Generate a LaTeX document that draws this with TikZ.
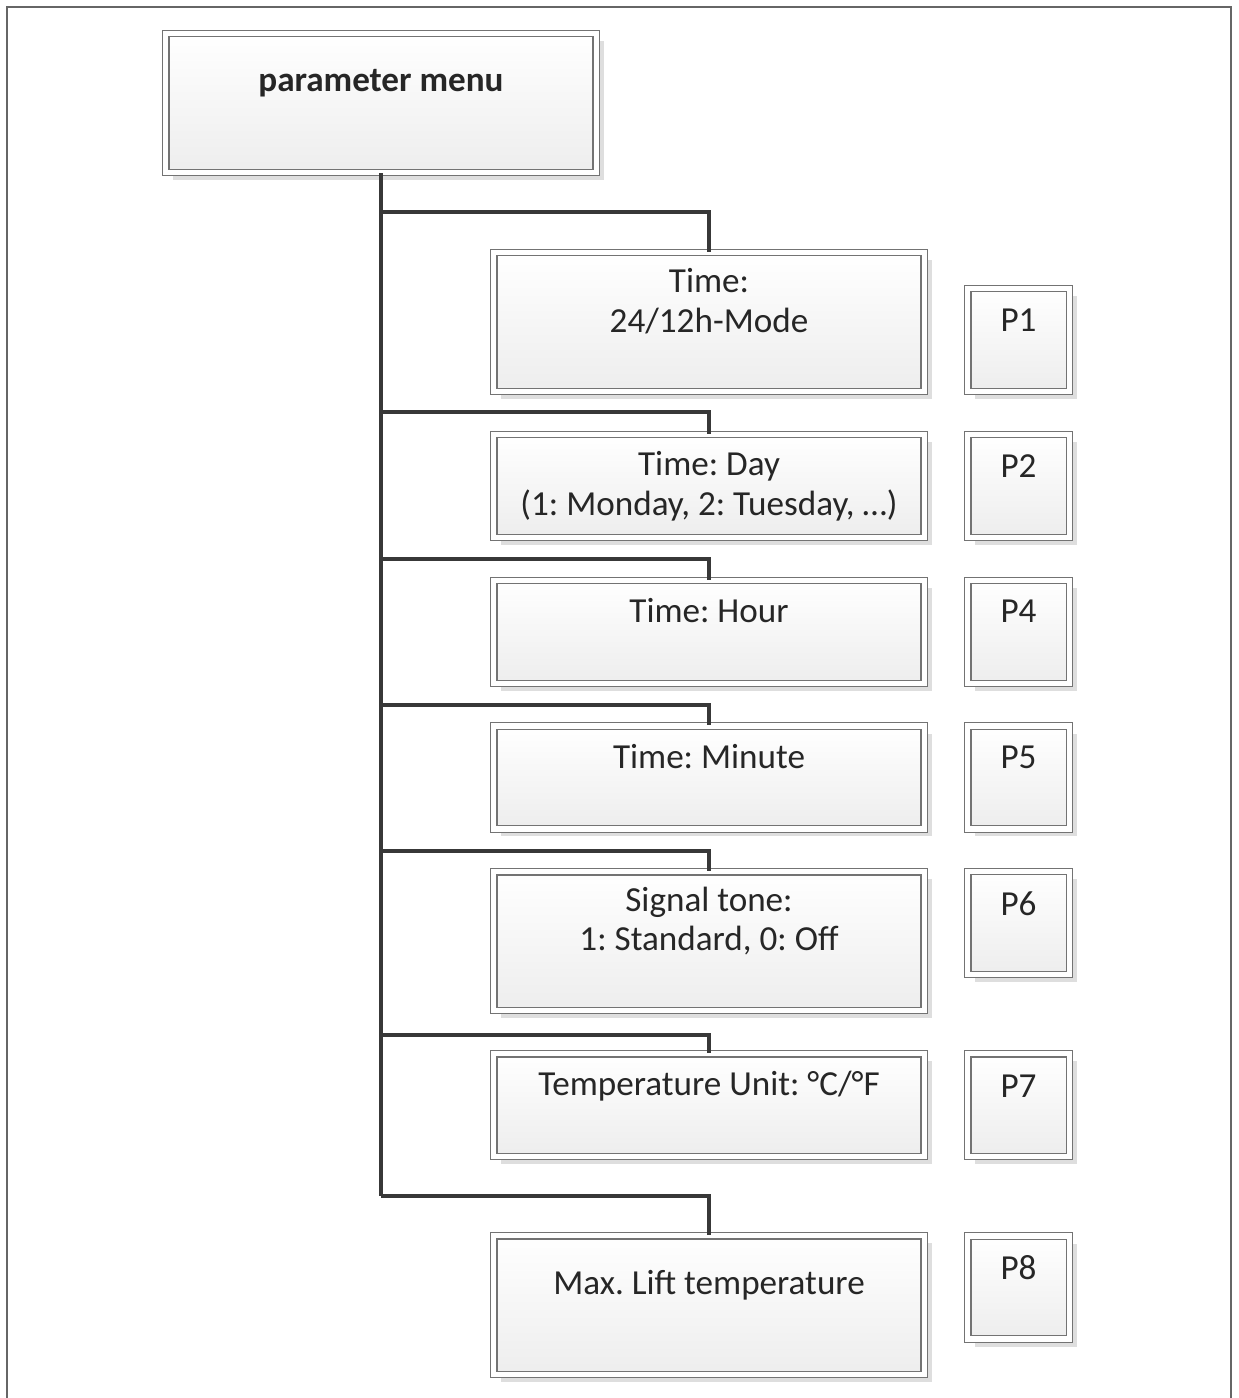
\documentclass[tikz,border=0pt]{standalone}
\usepackage{fontspec}
\setmainfont{Carlito}
\usepackage{tikz}
\usetikzlibrary{positioning, shadows}
\frenchspacing

\tikzset{
  menubox/.style={draw=black!55, line width=0.7pt, double=white, double distance=0.11cm,
    top color=white, bottom color=black!7, inner sep=0pt,
    drop shadow={shadow xshift=0.15cm, shadow yshift=-0.15cm, fill=black!13, opacity=1}},
  tallbox/.style={menubox, minimum width=8.62cm, minimum height=2.78cm},
  flatbox/.style={menubox, minimum width=8.62cm, minimum height=2.06cm},
  pbox/.style={menubox, minimum width=2.04cm, minimum height=2.06cm},
  boxtext/.style={text=black!85, align=center, font=\fontsize{20}{22.7}\selectfont, inner sep=0pt},
  conn/.style={draw=black!78, line width=0.09cm}
}

\begin{document}
\begin{tikzpicture}[x=0.02cm, y=-0.02cm]
\useasboundingbox (0,0) rectangle (1239,1398);

% Frame (open at the bottom)
\draw[black!60, line width=0.04cm] (7,1398) -- (7,7) -- (1231,7) -- (1231,1398);

% Top box
\node[tallbox] (menu) at (381,103) {};
\node[boxtext, font=\fontsize{20}{22.7}\selectfont\bfseries] (tmenu) at (381,83) {parameter menu};

% Menu entries
\node[tallbox] (b1) at (709,322) {};
\node[boxtext] (t1) at (709,301) {Time:\\24/12h-Mode};
\node[flatbox] (b2) at (709,486) {};
\node[boxtext] (t2) at (709,486) {Time: Day\\(1: Monday, 2: Tuesday, …)};
\node[flatbox] (b3) at (709,632) {};
\node[boxtext] (t3) at (709,611) {Time: Hour};
\node[flatbox] (b4) at (709,777.5) {};
\node[boxtext] (t4) at (709,757) {Time: Minute};
\node[tallbox] (b5) at (709,941) {};
\node[boxtext] (t5) at (709,921) {Signal tone:\\1: Standard, 0: Off};
\node[flatbox] (b6) at (709,1105) {};
\node[boxtext] (t6) at (709,1086) {Temperature Unit: °C/°F};
\node[tallbox] (b7) at (709,1305) {};
\node[boxtext] (t7) at (709,1285) {Max. Lift temperature};

% Parameter codes
\node[pbox] (p1) at (1018.5,340) {};
\node[boxtext] (tp1) at (1018.5,320) {P1};
\node[pbox] (p2) at (1018.5,486) {};
\node[boxtext] (tp2) at (1018.5,466) {P2};
\node[pbox] (p4) at (1018.5,632) {};
\node[boxtext] (tp4) at (1018.5,611) {P4};
\node[pbox] (p5) at (1018.5,777.5) {};
\node[boxtext] (tp5) at (1018.5,757) {P5};
\node[pbox] (p6) at (1018.5,923) {};
\node[boxtext] (tp6) at (1018.5,904) {P6};
\node[pbox] (p7) at (1018.5,1105) {};
\node[boxtext] (tp7) at (1018.5,1086) {P7};
\node[pbox] (p8) at (1018.5,1287.5) {};
\node[boxtext] (tp8) at (1018.5,1268) {P8};

% Junctions on the trunk
\coordinate (j1) at (381,212);
\coordinate (j2) at (381,412);
\coordinate (j3) at (381,559);
\coordinate (j4) at (381,705);
\coordinate (j5) at (381,851);
\coordinate (j6) at (381,1035);
\coordinate (j7) at (381,1196);

% Connectors
\draw[conn] (menu.south) -- (j7);
\foreach \j in {1,...,7}
  \draw[conn] (j\j) -| (b\j.north);

\end{tikzpicture}
\end{document}
